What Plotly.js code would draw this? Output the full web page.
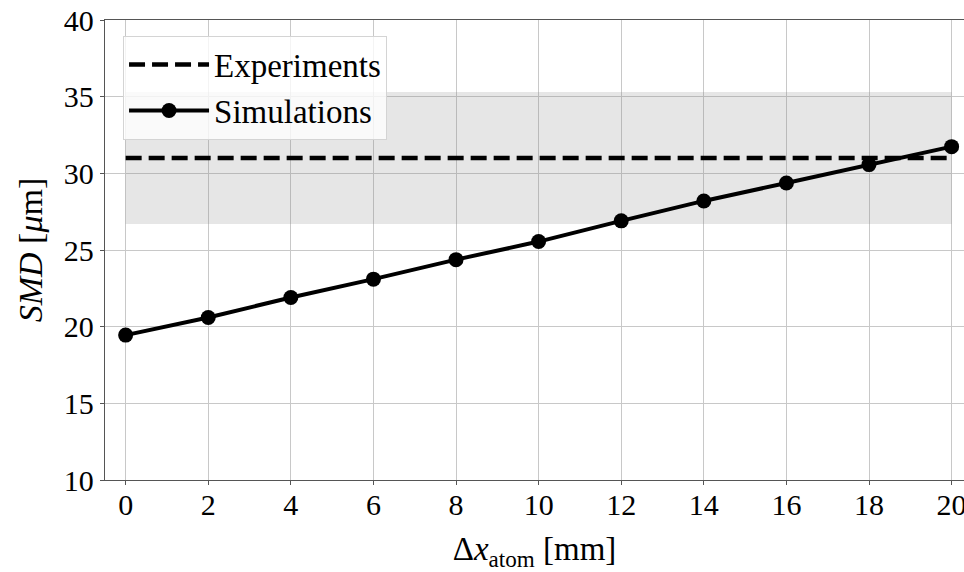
<!DOCTYPE html>
<html>
<head>
<meta charset="utf-8">
<script src="https://cdn.plot.ly/plotly-3.0.1.min.js"></script>
</head>
<body style="margin:0">
<div id="chart"></div>
<script>
// Data
const dxAtom = [0, 2, 4, 6, 8, 10, 12, 14, 16, 18, 20];
const smdSim = [19.45, 20.6, 21.9, 23.1, 24.37, 25.55, 26.9, 28.2, 29.37, 30.57, 31.74];
const expX = [0, 20];
const expSMD = [31.0, 31.0];
const expLow = [26.7, 26.7];
const expHigh = [35.3, 35.3];
const xTicks = [0, 2, 4, 6, 8, 10, 12, 14, 16, 18, 20];
const yTicks = [10, 15, 20, 25, 30, 35, 40];

const FONT = "Liberation Serif";

const traces = [
  { x: expX, y: expLow, mode: 'lines', line: {width: 0, color: 'rgba(0,0,0,0)'},
    showlegend: false, hoverinfo: 'skip' },
  { x: expX, y: expHigh, mode: 'lines', line: {width: 0, color: 'rgba(0,0,0,0)'},
    fill: 'tonexty', fillcolor: 'rgba(128,128,128,0.2)', showlegend: false, hoverinfo: 'skip' },
  { x: expX, y: expSMD, mode: 'lines', name: 'Experiments',
    line: {color: '#000', width: 4.5, dash: '16px,7px'} },
  { x: dxAtom, y: smdSim, mode: 'lines+markers', name: 'Simulations',
    line: {color: '#000', width: 4}, marker: {color: '#000', size: 15} }
];

const layout = {
  width: 964, height: 572,
  margin: {l: 105, r: 0, t: 20, b: 92},
  paper_bgcolor: '#fff', plot_bgcolor: '#fff',
  font: {family: FONT, size: 30, color: '#000'},
  showlegend: true,
  legend: {
    x: 0.021, y: 0.966, xanchor: 'left', yanchor: 'top',
    traceorder: 'normal',
    bgcolor: 'rgba(255,255,255,0.8)', bordercolor: '#d4d4d4', borderwidth: 1,
    font: {family: FONT, size: 33, color: '#000'},
    itemwidth: 80, tracegroupgap: 2
  },
  xaxis: {
    range: [-0.5, 20.3],
    tickvals: xTicks, ticktext: xTicks.map(String),
    showgrid: true, gridcolor: '#c8c8c8', gridwidth: 1,
    showline: true, linecolor: '#555', linewidth: 1.3, mirror: true,
    ticks: 'outside', ticklen: 4, tickcolor: '#555',
    ticklabeloverflow: 'allow', ticklabelstandoff: -6,
    zeroline: false,
    tickfont: {family: FONT, size: 30},
    title: {text: 'Δ<i>x</i><sub>atom</sub> [mm]', font: {family: FONT, size: 33}, standoff: 16}
  },
  yaxis: {
    range: [10, 40],
    tickvals: yTicks, ticktext: yTicks.map(String),
    showgrid: true, gridcolor: '#c8c8c8', gridwidth: 1,
    showline: true, linecolor: '#555', linewidth: 1.3, mirror: false,
    ticks: 'outside', ticklen: 4, tickcolor: '#555',
    zeroline: false,
    tickfont: {family: FONT, size: 30},
    title: {text: '<i>SMD</i> [<i>μ</i>m]', font: {family: FONT, size: 34}, standoff: 10}
  }
};

Plotly.newPlot('chart', traces, layout, {displayModeBar: false});
</script>
</body>
</html>
